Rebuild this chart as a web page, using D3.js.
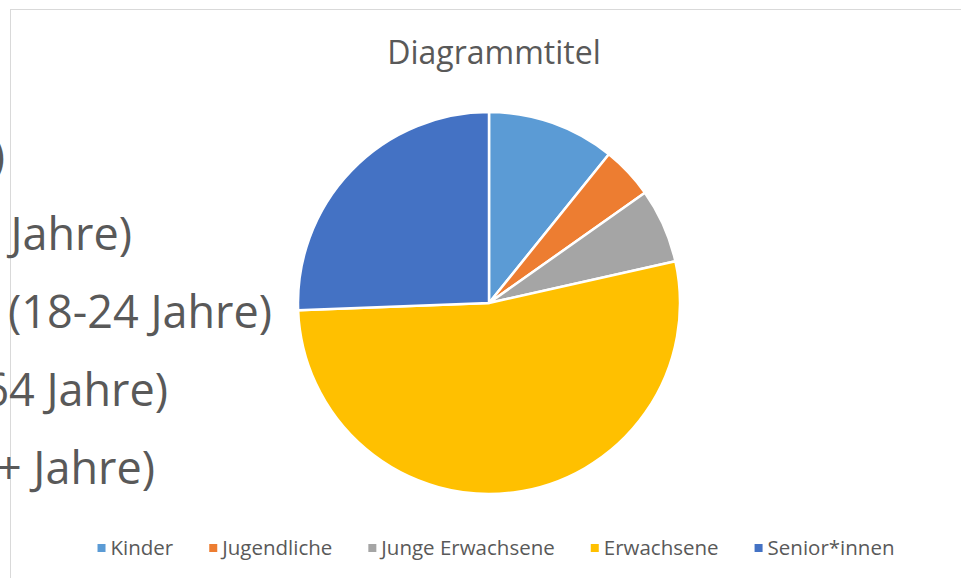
<!DOCTYPE html>
<html>
<head>
<meta charset="utf-8">
<script src="https://cdn.jsdelivr.net/npm/d3@7"></script>
<style>
  body { margin: 0; background: #fff; overflow: hidden; }
  svg { display: block; font-family: "Open Sans", sans-serif; }
</style>
</head>
<body>
<svg id="chart" width="961" height="578"></svg>
<script>
// data
var categories = ["Kinder", "Jugendliche", "Junge Erwachsene", "Erwachsene", "Senior*innen"];
var values = [10.8, 4.4, 6.3, 52.9, 25.6];
var ageLabels = ["(0-12)", "(13-17 Jahre)", "(18-24 Jahre)", "(25-64 Jahre)", "(65+ Jahre)"];
var colors = ["#5B9BD5", "#ED7D31", "#A5A5A5", "#FFC000", "#4472C4"];
var title = "Diagrammtitel";

var svg = d3.select("#chart"),
    width = 961,
    height = 578,
    textColor = "#595959";

// chart area frame (right/bottom edges run off the page)
svg.append("rect")
    .attr("x", 10.5).attr("y", 9.5)
    .attr("width", 1000).attr("height", 600)
    .attr("fill", "#fff")
    .attr("stroke", "#d9d9d9")
    .attr("stroke-width", 1);

// oversized labels cut off at the left edge
var labelEnds = [5, 132, 272, 168, 155];
svg.append("g").selectAll("text")
    .data(ageLabels)
    .enter().append("text")
    .attr("x", (d, i) => labelEnds[i])
    .attr("y", (d, i) => 172 + i * 78)
    .attr("text-anchor", "end")
    .style("font-size", "45px")
    .style("fill", textColor)
    .text(d => d);

// title
svg.append("text")
    .attr("x", 494).attr("y", 64)
    .attr("text-anchor", "middle")
    .style("font-size", "32px")
    .style("fill", textColor)
    .text(title);

// pie
var cx = 489, cy = 303, radius = 191;
var pie = d3.pie().sort(null).value(d => d)(values);
var arc = d3.arc().innerRadius(0).outerRadius(radius);

svg.append("g")
    .attr("transform", `translate(${cx},${cy})`)
    .selectAll("path")
    .data(pie)
    .enter().append("path")
    .attr("d", arc)
    .attr("fill", (d, i) => colors[i])
    .attr("stroke", "#fff")
    .attr("stroke-width", 2.5)
    .attr("stroke-linejoin", "round");

// legend
var legend = svg.append("g");
var items = legend.selectAll("g")
    .data(categories)
    .enter().append("g");

items.append("rect")
    .attr("width", 8).attr("height", 8)
    .attr("y", 544)
    .attr("fill", (d, i) => colors[i]);

items.append("text")
    .attr("x", 13)
    .attr("y", 555)
    .style("font-size", "20.5px")
    .style("fill", textColor)
    .text(d => d);

var posX = 0, gap = 36, offs = [];
items.each(function(d, i) {
    var w = d3.select(this).select("text").node().getComputedTextLength();
    offs.push(posX);
    posX += 13 + w + gap;
});
var total = posX - gap, startX = 496 - total / 2;
items.attr("transform", (d, i) => `translate(${startX + offs[i]},0)`);
</script>
</body>
</html>
